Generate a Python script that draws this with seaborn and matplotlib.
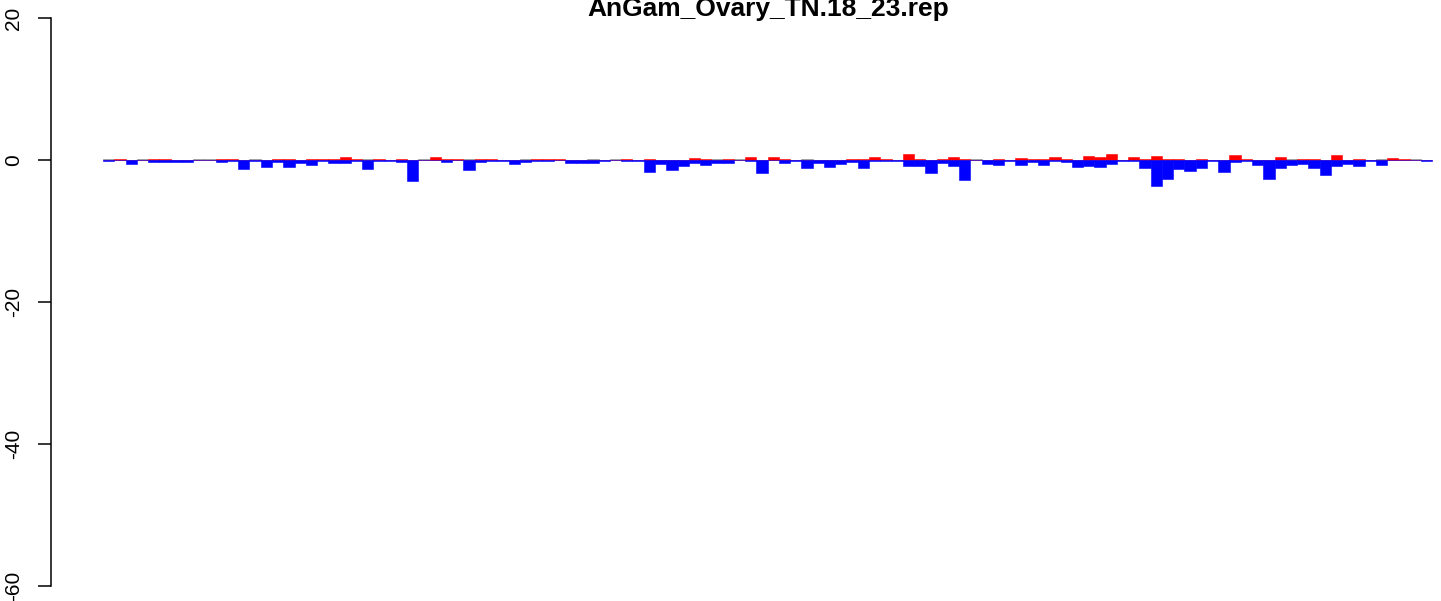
import numpy as np
import pandas as pd
import matplotlib
matplotlib.use("Agg")
import matplotlib.pyplot as plt
import seaborn as sns

title = "AnGam_Ovary_TN.18_23.rep"

red_vals = [0, 0.1, 0, 0, 0.1, 0.1, 0, 0, 0, 0,
            0.19, 0.19, 0, 0, 0, 0.19, 0.19, 0, 0.19, 0.19,
            0.1, 0.47, 0.1, 0, 0.1, 0, 0.1, 0, 0, 0.47,
            0.19, 0.19, 0, 0.19, 0.1, 0, 0, 0, 0.1, 0.19,
            0.1, 0, 0, 0, 0, 0, 0.1, 0, 0.19, 0,
            0, 0, 0.33, 0.19, 0, 0.1, 0, 0.47, 0, 0.47,
            0.1, 0, 0, 0, 0, 0, 0.19, 0.1, 0.47, 0.19,
            0, 0.89, 0.19, 0, 0.19, 0.47, 0.1, 0, 0, 0.19,
            0, 0.33, 0.19, 0.1, 0.47, 0.19, 0, 0.61, 0.47, 0.89,
            0, 0.47, 0.19, 0.61, 0.19, 0.1, 0, 0.19, 0, 0,
            0.75, 0.19, 0, 0, 0.47, 0, 0.1, 0.19, 0, 0.75,
            0, 0.19, 0, 0, 0.33, 0.19, 0, 0]

blue_vals = [-0.15, 0, -0.52, 0, -0.33, -0.33, -0.33, -0.33, 0, 0,
             -0.33, -0.15, -1.22, -0.15, -0.94, -0.28, -0.94, -0.47, -0.75, -0.15,
             -0.38, -0.47, -0.15, -1.22, -0.1, -0.12, -0.33, -3.0, 0, 0,
             -0.23, 0, -1.46, -0.23, -0.12, -0.19, -0.52, -0.33, -0.12, -0.19,
             0, -0.38, -0.38, -0.38, -0.12, 0, -0.1, -0.12, -1.64, -0.52,
             -1.36, -0.8, -0.38, -0.66, -0.38, -0.38, 0, -0.15, -1.78, -0.05,
             -0.38, -0.2, -1.08, -0.38, -0.94, -0.52, -0.23, -1.08, -0.12, -0.12,
             -0.12, -0.8, -0.8, -1.78, -0.38, -0.8, -2.77, 0, -0.52, -0.66,
             -0.12, -0.66, -0.28, -0.66, -0.12, -0.23, -0.94, -0.8, -0.94, -0.52,
             -0.12, -0.12, -1.08, -3.6, -2.63, -1.22, -1.5, -1.08, -0.12, -1.64,
             -0.33, -0.19, -0.66, -2.63, -1.08, -0.66, -0.52, -1.08, -2.07, -0.8,
             -0.52, -0.8, -0.12, -0.66, 0, 0, 0, -0.12]

grey_idx = [0, 3, 8, 9, 13, 23, 28, 32, 37, 43, 45, 54, 56, 62, 77, 105, 113, 116]
grey_vals = [0.14 if i in grey_idx else 0 for i in range(len(red_vals))]

yticks = [-60, -40, -20, 0, 20]

n = len(red_vals)
df = pd.DataFrame({"pos": np.arange(n), "red": red_vals, "blue": blue_vals, "grey": grey_vals})

W, H = 1441, 601
fig = plt.figure(figsize=(W / 100, H / 100), dpi=100)
ax = fig.add_axes([50.5 / W, 0, 1 - 50.5 / W, 1])

for col, c in [("grey", "#888888"), ("red", "#FF0000"), ("blue", "#0000FF")]:
    sns.barplot(data=df, x="pos", y=col, color=c, saturation=1, width=1,
                errorbar=None, linewidth=0.4, edgecolor=c, ax=ax)

bw = 11.265
x0 = -0.5 - (103 - 50.5) / bw
x1 = -0.5 + (W - 103) / bw
ax.set_xlim(x0, x1)
ax.set_ylim((160 - H) / 7.1, 160 / 7.1)

for s in ["top", "right", "bottom"]:
    ax.spines[s].set_visible(False)
ax.spines["left"].set_bounds(-60, 20)
ax.spines["left"].set_linewidth(1.1)
ax.set_xticks([])
ax.set_xlabel("")
ax.set_ylabel("")
ax.set_yticks(yticks)
ax.set_yticklabels([str(t) for t in yticks], rotation=90, va="center",
                   family="Liberation Sans", fontsize=15)
ax.tick_params(axis="y", length=9.5, width=1.1, pad=10)
ax.grid(False)
ax.set_facecolor("white")

fig.text(768 / W, 1 - 16 / H, title, ha="center", va="baseline",
         fontsize=19, fontweight="bold", family="Liberation Sans")

fig.savefig("out.png", dpi=100)
